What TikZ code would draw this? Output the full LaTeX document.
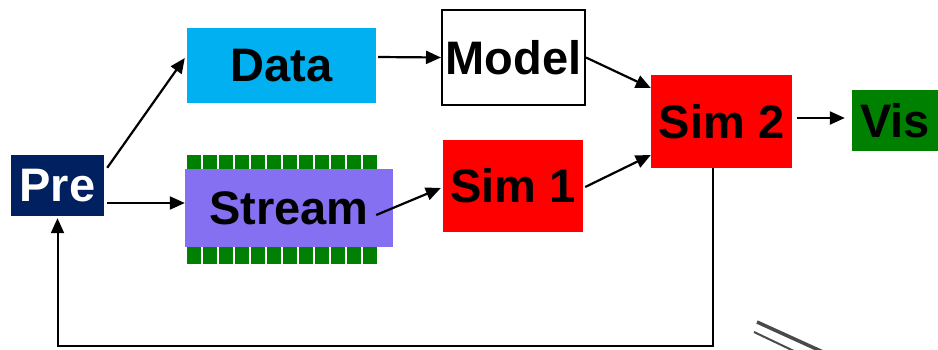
\documentclass[tikz,border=0pt]{standalone}
\usepackage{fontspec}
\setmainfont{Liberation Sans}
\usetikzlibrary{arrows.meta,calc}
\definecolor{navy}{HTML}{002060}
\definecolor{cyanbox}{HTML}{00B0F0}
\definecolor{streamblue}{HTML}{8470F0}
\definecolor{visgreen}{HTML}{008000}
\definecolor{pipegrey}{HTML}{4A4A4A}
\tikzset{
  blockbox/.style={draw=none, inner sep=0pt, font=\fontsize{47}{50}\selectfont\bfseries},
  flow/.style={line width=2.2pt, -{Triangle[length=15pt,width=13pt]}},
}
\begin{document}
\begin{tikzpicture}[x=1pt,y=-1pt]
\useasboundingbox (0,0) rectangle (938,349);
% stream carrier teeth
\foreach \i in {0,...,11}{
  \fill[visgreen] (187+16*\i,155) rectangle ++(14,14);
  \fill[visgreen] (187+16*\i,246) rectangle ++(14,18);
}
% blocks
\node[blockbox, fill=navy, text=white, minimum width=93pt, minimum height=61pt] (pre) at (57.5,185.5) {Pre};
\node[blockbox, fill=cyanbox, minimum width=189pt, minimum height=75pt] (data) at (281.5,65.5) {Data};
\node[blockbox, draw=black, line width=2pt, fill=white, minimum width=143pt, minimum height=95pt] (model) at (513.5,57.5) {Model};
\node[blockbox, fill=streamblue, minimum width=208pt, minimum height=78pt] (stream) at (289,208) {Stream};
\node[blockbox, fill=red, minimum width=140pt, minimum height=92pt] (sim1) at (513,186) {Sim 1};
\node[blockbox, fill=red, minimum width=141pt, minimum height=93pt] (sim2) at (721.5,121.5) {Sim 2};
\node[blockbox, fill=visgreen, minimum width=86pt, minimum height=61pt] (vis) at (895,120.5) {Vis};
% connectors
\draw[flow] ($(pre.north east)+(3,13)$) -- ($(data.west)+(-2,-7.5)$);
\draw[flow] ($(pre.east)+(3,17.5)$) -- ($(stream.west)+(0,-5)$);
\draw[flow] ($(data.east)+(2,-8.5)$) -- (model.west);
\draw[flow] ($(stream.east)+(-17,7)$) -- ($(sim1.west)+(-2,2)$);
\draw[flow] (model.east) -- ($(sim2.west)+(0,-33.5)$);
\draw[flow] ($(sim1.east)+(2,1)$) -- ($(sim2.west)+(0,33.5)$);
\draw[flow] ($(sim2.east)+(5,-3.5)$) -- ($(vis.west)+(-7,-2.5)$);
\coordinate (fbdown) at ($(sim2.south)+(-8.5,0)$);
\draw[flow, line width=2pt] (fbdown) -- (fbdown |- 0,346) -- (pre.south |- 0,346) -- ($(pre.south)+(0,2)$);
% grey pipe
\draw[pipegrey, line width=3.5pt] (757,322) -- (823,352);
\draw[pipegrey, line width=2pt] (754,332) -- (796,352);
\end{tikzpicture}
\end{document}
